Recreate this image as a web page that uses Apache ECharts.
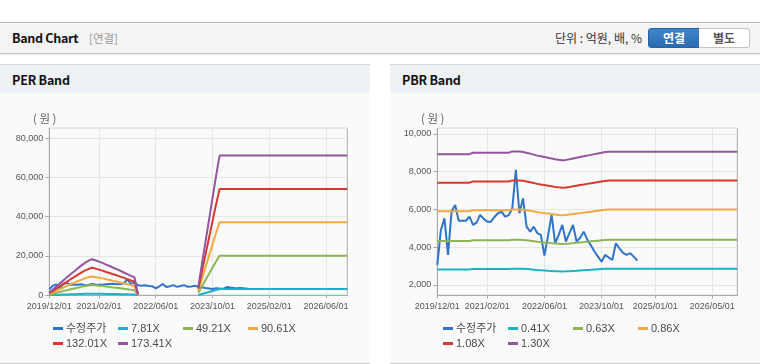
<!DOCTYPE html>
<html><head><meta charset="utf-8">
<script src="https://cdn.jsdelivr.net/npm/echarts@6/dist/echarts.min.js"></script>
<style>
html,body{margin:0;padding:0;background:#fff;width:760px;height:364px;overflow:hidden;font-family:'Noto Sans CJK KR','Noto Sans',sans-serif;}
#hdr{position:absolute;left:0;top:22px;width:760px;height:30px;background:#f4f4f4;border-top:1px solid #b8b8b8;border-bottom:1px solid #c6c6c6;box-shadow:0 1px 2px rgba(0,0,0,0.10);}
#hdr .t{position:absolute;left:12px;top:0;line-height:30px;font-size:12.5px;letter-spacing:-0.3px;font-weight:bold;color:#111;}
#hdr .s{position:absolute;left:89px;top:0;line-height:30px;font-size:11.5px;color:#999;}
#hdr .u{position:absolute;right:118px;top:0;line-height:30px;font-size:12px;color:#333;}
.btn{position:absolute;top:5px;height:18px;line-height:18px;font-size:12px;font-weight:bold;text-align:center;box-sizing:content-box;}
#b1{left:648px;width:50px;background:linear-gradient(#3f86cb,#2a6bb0);border:1px solid #2a62a0;border-radius:3px 0 0 3px;color:#fff;}
#b2{left:699px;width:50px;background:#fff;border:1px solid #c3c3c3;border-left:none;border-radius:0 3px 3px 0;color:#555;}
.panel{position:absolute;top:64px;width:370px;height:298px;background:#fafafa;border-top:1px solid #d6d6d6;border-bottom:1px solid #d0d0d0;}
.panel .ttl{height:28px;line-height:29px;background:#eef2f7;padding-left:12px;font-size:12.5px;letter-spacing:-0.2px;font-weight:bold;color:#111;}
.chart{position:absolute;top:93px;width:370px;height:270px;}
.unit{position:absolute;top:110px;font-size:11.5px;line-height:16px;color:#666;z-index:5;white-space:nowrap;}
</style></head>
<body>
<div id="hdr"><span class="t">Band Chart</span><span class="s">[연결]</span><span class="u">단위 : 억원, 배, %</span>
<div class="btn" id="b1">연결</div><div class="btn" id="b2">별도</div></div>
<div class="panel" style="left:0"><div class="ttl">PER Band</div></div>
<div class="panel" style="left:390px"><div class="ttl">PBR Band</div></div>
<div class="chart" id="per" style="left:0"></div>
<div class="chart" id="pbr" style="left:390px"></div>
<div class="unit" style="left:33px">( 원 )</div>
<div class="unit" style="left:421px">( 원 )</div>
<script>
// ---------- DATA ----------
const months = [
'2019/12/01','2020/01/01','2020/02/01','2020/03/01','2020/04/01','2020/05/01','2020/06/01','2020/07/01','2020/08/01','2020/09/01',
'2020/10/01','2020/11/01','2020/12/01','2021/01/01','2021/02/01','2021/03/01','2021/04/01','2021/05/01','2021/06/01','2021/07/01',
'2021/08/01','2021/09/01','2021/10/01','2021/11/01','2021/12/01','2022/01/01','2022/02/01','2022/03/01','2022/04/01','2022/05/01',
'2022/06/01','2022/07/01','2022/08/01','2022/09/01','2022/10/01','2022/11/01','2022/12/01','2023/01/01','2023/02/01','2023/03/01',
'2023/04/01','2023/05/01','2023/06/01','2023/07/01','2023/08/01','2023/09/01','2023/10/01','2023/11/01','2023/12/01','2024/01/01',
'2024/02/01','2024/03/01','2024/04/01','2024/05/01','2024/06/01','2024/07/01','2024/08/01','2024/09/01','2024/10/01','2024/11/01',
'2024/12/01','2025/01/01','2025/02/01','2025/03/01','2025/04/01','2025/05/01','2025/06/01','2025/07/01','2025/08/01','2025/09/01',
'2025/10/01','2025/11/01','2025/12/01','2026/01/01','2026/02/01','2026/03/01','2026/04/01','2026/05/01','2026/06/01','2026/07/01',
'2026/08/01','2026/09/01','2026/10/01','2026/11/01','2026/12/01'];
const perTickLabels = ['2019/12/01','2021/02/01','2022/06/01','2023/10/01','2025/02/01','2026/06/01'];
const pbrTickLabels = ['2019/12/01','2021/02/01','2022/06/01','2023/10/01','2025/01/01','2026/05/01'];
const perNames = ['수정주가','7.81X','49.21X','90.61X','132.01X','173.41X'];
const pbrNames = ['수정주가','0.41X','0.63X','0.86X','1.08X','1.30X'];
const colors = ['#2f74c9','#1cb3c6','#8db457','#f2a93f','#d6392d','#94559e'];

const price = [3060,4900,5530,3590,5900,6240,5400,5400,5400,5620,
5180,5300,5710,5500,5350,5350,5600,5800,5880,5620,
5700,6060,8100,5800,6590,5090,4820,5090,4740,4650,
3550,4600,5710,4210,4650,5180,4300,4750,5180,4300,
4500,4820,4400,4100,3770,3500,3230,3590,3450,3320,
4210,3940,3700,3590,3680,3500,3290];

const per781 = [62,133,203,273,344,414,484,547,617,679,742,789,828,804,773,742,703,672,633,601,562,523,484,445,414,23,
null,null,null,null,null,null,null,null,null,null,null,null,null,null,null,null,
195,703,1211,1718,2226,2734,3202,
3202,3202,3202,3202,3202,3202,3202,3202,3202,3202,3202,3202,3202,3202,3202,3202,3202,3202,
3202,3202,3202,3202,3202,3202,3202,3202,3202,3202,3202,3202,3202,3202,3202,3202,3202,3202];
const per4921 = [394,837,1279,1722,2165,2608,3051,3445,3888,4281,4675,4970,5216,5069,4872,4675,4429,4232,3986,3789,3543,3297,3051,2805,2608,148,
null,null,null,null,null,null,null,null,null,null,null,null,null,null,null,null,
1230,4429,7628,10826,14025,17224,20176,
20176,20176,20176,20176,20176,20176,20176,20176,20176,20176,20176,20176,20176,20176,20176,20176,20176,20176,
20176,20176,20176,20176,20176,20176,20176,20176,20176,20176,20176,20176,20176,20176,20176,20176,20176,20176];
const per9061 = [725,1540,2356,3171,3987,4802,5618,6343,7158,7883,8608,9152,9605,9333,8970,8608,8155,7792,7339,6977,6524,6071,5618,5165,4802,272,
null,null,null,null,null,null,null,null,null,null,null,null,null,null,null,null,
2265,8155,14045,19934,25824,31714,37150,
37150,37150,37150,37150,37150,37150,37150,37150,37150,37150,37150,37150,37150,37150,37150,37150,37150,37150,
37150,37150,37150,37150,37150,37150,37150,37150,37150,37150,37150,37150,37150,37150,37150,37150,37150,37150];
const per13201 = [1056,2244,3432,4620,5808,6997,8185,9241,10429,11485,12541,13333,13993,13597,13069,12541,11881,11353,10693,10165,9505,8845,8185,7525,6997,396,
null,null,null,null,null,null,null,null,null,null,null,null,null,null,null,null,
3300,11881,20462,29042,37623,46204,54124,
54124,54124,54124,54124,54124,54124,54124,54124,54124,54124,54124,54124,54124,54124,54124,54124,54124,54124,
54124,54124,54124,54124,54124,54124,54124,54124,54124,54124,54124,54124,54124,54124,54124,54124,54124,54124];
const per17341 = [1387,2948,4509,6069,7630,9191,10751,12139,13699,15087,16474,17514,18381,17861,17168,16474,15607,14913,14046,13353,12486,11618,10751,9884,9191,520,
null,null,null,null,null,null,null,null,null,null,null,null,null,null,null,null,
4335,15607,26879,38150,49422,60694,71098,
71098,71098,71098,71098,71098,71098,71098,71098,71098,71098,71098,71098,71098,71098,71098,71098,71098,71098,
71098,71098,71098,71098,71098,71098,71098,71098,71098,71098,71098,71098,71098,71098,71098,71098,71098,71098];

const pbr041 = [2817,2817,2817,2817,2817,2817,2817,2817,2817,2817,
2839,2839,2839,2839,2839,2839,2839,2839,2839,2839,2839,
2862,2862,2862,
2854,2841,2825,2809,2792,2780,2768,2755,2743,2731,2722,2716,2720,2731,2743,2755,2768,2780,2792,2804,2817,2829,2841,2852,
2858,2858,2858,2858,2858,2858,2858,2858,2858,2858,2858,2858,2858,2858,2858,2858,2858,2858,2858,
2858,2858,2858,2858,2858,2858,2858,2858,2858,2858,2858,2858,2858,2858,2858,2858,2858,2858];
const pbr063 = [4328,4328,4328,4328,4328,4328,4328,4328,4328,4328,
4363,4363,4363,4363,4363,4363,4363,4363,4363,4363,4363,
4397,4397,4397,
4385,4366,4341,4316,4290,4271,4253,4234,4215,4196,4183,4174,4180,4196,4215,4234,4253,4271,4290,4309,4328,4347,4366,4382,
4391,4391,4391,4391,4391,4391,4391,4391,4391,4391,4391,4391,4391,4391,4391,4391,4391,4391,4391,
4391,4391,4391,4391,4391,4391,4391,4391,4391,4391,4391,4391,4391,4391,4391,4391,4391,4391];
const pbr086 = [5908,5908,5908,5908,5908,5908,5908,5908,5908,5908,
5956,5956,5956,5956,5956,5956,5956,5956,5956,5956,5956,
6003,6003,6003,
5986,5960,5925,5891,5857,5831,5805,5779,5753,5728,5710,5698,5706,5728,5753,5779,5805,5831,5857,5882,5908,5934,5960,5981,
5994,5994,5994,5994,5994,5994,5994,5994,5994,5994,5994,5994,5994,5994,5994,5994,5994,5994,5994,
5994,5994,5994,5994,5994,5994,5994,5994,5994,5994,5994,5994,5994,5994,5994,5994,5994,5994];
const pbr108 = [7420,7420,7420,7420,7420,7420,7420,7420,7420,7420,
7479,7479,7479,7479,7479,7479,7479,7479,7479,7479,7479,
7538,7538,7538,
7517,7484,7441,7398,7355,7322,7290,7258,7225,7193,7171,7155,7166,7193,7225,7258,7290,7322,7355,7387,7420,7452,7484,7511,
7528,7528,7528,7528,7528,7528,7528,7528,7528,7528,7528,7528,7528,7528,7528,7528,7528,7528,7528,
7528,7528,7528,7528,7528,7528,7528,7528,7528,7528,7528,7528,7528,7528,7528,7528,7528,7528];
const pbr130 = [8931,8931,8931,8931,8931,8931,8931,8931,8931,8931,
9003,9003,9003,9003,9003,9003,9003,9003,9003,9003,9003,
9074,9074,9074,
9048,9009,8957,8905,8853,8814,8775,8736,8697,8658,8632,8613,8626,8658,8697,8736,8775,8814,8853,8892,8931,8970,9009,9042,
9061,9061,9061,9061,9061,9061,9061,9061,9061,9061,9061,9061,9061,9061,9061,9061,9061,9061,9061,
9061,9061,9061,9061,9061,9061,9061,9061,9061,9061,9061,9061,9061,9061,9061,9061,9061,9061];

// ---------- BUILD ----------
const LF = "'Liberation Sans','Noto Sans CJK KR',Arial,sans-serif";
const fmt = v => Math.round(v).toLocaleString('en-US');
function build(el, names, seriesData, ticks, gridLeft, gridWidth, yCfg){
  const chart = echarts.init(document.getElementById(el), null, {renderer:'canvas'});
  const showIdx = (i, v) => ticks.indexOf(v) >= 0;
  const legendX = [53, 118, 183, 248, 53, 118];
  const legendY = [230, 230, 230, 230, 245, 245];
  const legends = names.map((n, i) => ({
    data:[n], left:legendX[i], top:legendY[i], padding:0, icon:'rect', itemWidth:10, itemHeight:3, itemGap:0,
    selectedMode:false,
    textStyle:{fontSize:11, color:'#4a4a4a', fontFamily:LF, padding:[0,0,0,-2]}
  }));
  chart.setOption({
    animation:false,
    color:colors,
    grid:{left:gridLeft, top:35.3, width:gridWidth, height:167, show:true, borderColor:'#aaaaaa', borderWidth:1, backgroundColor:'transparent', containLabel:false},
    legend:legends,
    xAxis:{type:'category', data:months, boundaryGap:false,
      axisLine:{lineStyle:{color:'#aaaaaa'}},
      axisTick:{show:true, interval:showIdx, length:3, lineStyle:{color:'#aaaaaa'}},
      axisLabel:{interval:showIdx, color:'#555', fontSize:9, fontFamily:LF, margin:7},
      splitLine:{show:true, interval:showIdx, lineStyle:{color:'#e6e6e6'}}},
    yAxis:Object.assign({type:'value',
      axisLine:{show:true, lineStyle:{color:'#aaaaaa'}},
      axisTick:{show:true, length:4, lineStyle:{color:'#aaaaaa'}},
      axisLabel:{color:'#555', fontSize:9, fontFamily:LF, margin:6, showMaxLabel:false, showMinLabel:yCfg.showMin, formatter:fmt},
      splitLine:{show:true, lineStyle:{color:'#e6e6e6'}}}, yCfg.axis),
    series:names.map((n, i) => ({name:n, type:'line', data:seriesData[i], showSymbol:false, symbol:'none',
      lineStyle:{width:2, color:colors[i]}, itemStyle:{color:colors[i]}, connectNulls:false}))
  });
}
build('per', perNames, [price, per781, per4921, per9061, per13201, per17341], perTickLabels, 49.3, 298,
  {axis:{min:0, max:85000, interval:20000}, showMin:true});
build('pbr', pbrNames, [price, pbr041, pbr063, pbr086, pbr108, pbr130], pbrTickLabels, 47.3, 300,
  {axis:{min:1450, max:10300, splitNumber:5}, showMin:false});
</script>
</body></html>
